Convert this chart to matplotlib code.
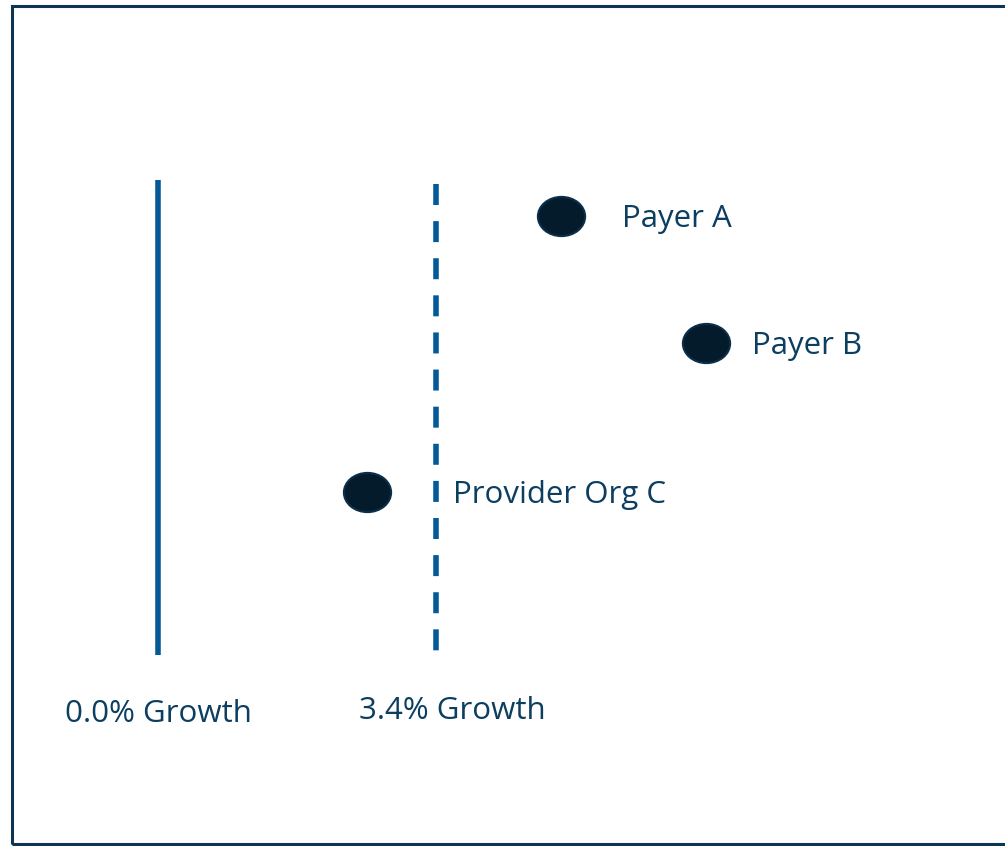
import matplotlib
matplotlib.use("Agg")
import matplotlib.pyplot as plt
from matplotlib.path import Path
from matplotlib.patches import Rectangle

# data: growth (%) on x, position score on y
orgs = ["Payer A", "Payer B", "Provider Org C"]
growth = [4.93, 6.70, 2.56]
score = [630, 503, 354]
label_offsets = [61, 46, 86]  # px right of the dot

ref_growth = [0.0, 3.4]
ref_labels = ["0.0% Growth", "3.4% Growth"]
ref_styles = ["solid", "dashed"]

line_color = "#035A96"
text_color = "#0C3E60"
dot_color = "#031B2B"
dot_edge = "#0B2F4B"

plt.rcParams['font.family'] = ['Open Sans', 'DejaVu Sans']
FS = 22.5

fig = plt.figure(figsize=(10.05, 8.46), dpi=100)
ax = fig.add_axes([0, 0, 1, 1])
px = 81.76  # pixels per 1% growth
ax.set_xlim(-158 / px, (1005 - 158) / px)
ax.set_ylim(0, 846)
ax.axis("off")

# outer frame
fig.patches.append(Rectangle((11.5 / 1005, 2 / 846), 1.0, 838 / 846,
                             transform=fig.transFigure, fill=False,
                             edgecolor="#0E3552", linewidth=2.2))

# reference growth lines (drawn top-down so the dash pattern starts at the top)
tops = [666, 662]
for g, st, top in zip(ref_growth, ref_styles, tops):
    ls = "-" if st == "solid" else (0, (3.78, 2.9))
    ax.plot([g, g], [top, 191], color=line_color, lw=4, linestyle=ls,
            solid_capstyle="butt", dash_capstyle="butt")
ax.text(ref_growth[0], 132, ref_labels[0], color=text_color, fontsize=FS,
        ha="center", va="center")
ax.text(ref_growth[1] + 16 / px, 135, ref_labels[1], color=text_color, fontsize=FS,
        ha="center", va="center")

# ellipse marker
circ = Path.unit_circle()
ell = Path(circ.vertices * [1.0, 0.83], circ.codes)
ax.scatter(growth, score, marker=ell, s=34 ** 2, color=dot_color,
           edgecolors=dot_edge, linewidths=1.5, zorder=3)

for name, g, s, off in zip(orgs, growth, score, label_offsets):
    ax.annotate(name, (g, s), xytext=(off, -3), textcoords="offset pixels",
                color=text_color, fontsize=FS, ha="left", va="center")

fig.savefig("out.png", dpi=100)
